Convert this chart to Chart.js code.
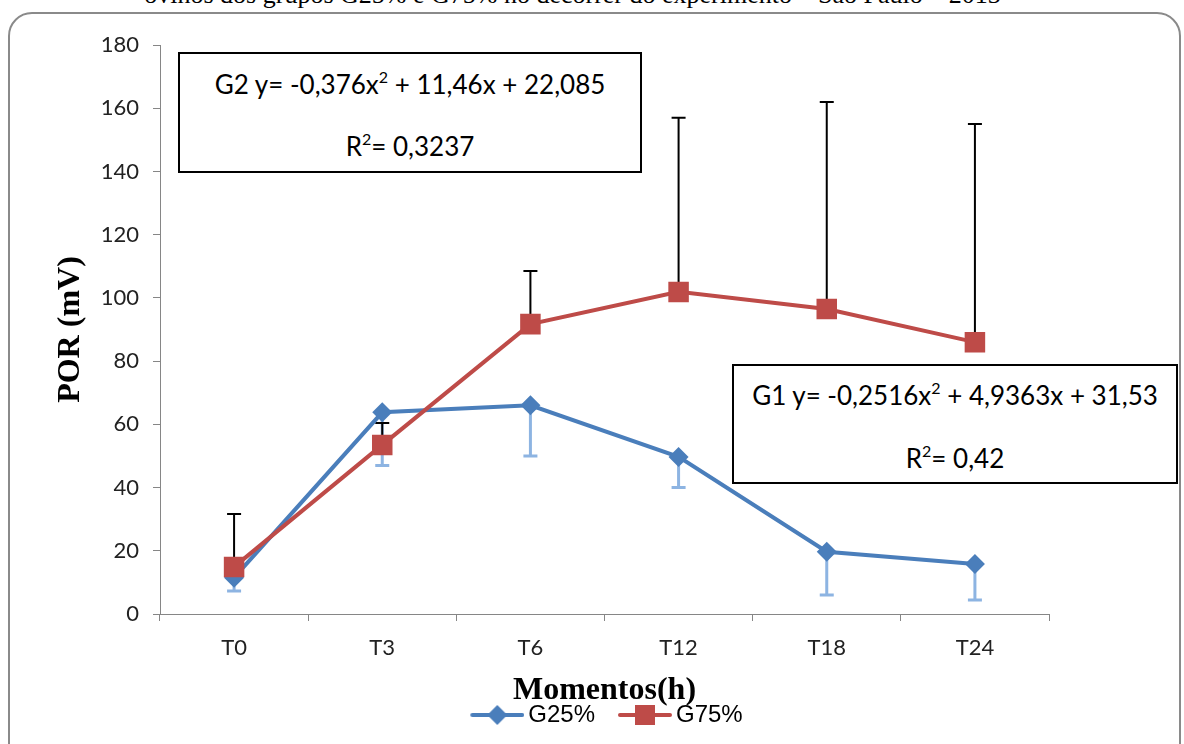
<!DOCTYPE html>
<html>
<head>
<meta charset="utf-8">
<title>POR (mV) G25% x G75%</title>
<script src="https://cdn.jsdelivr.net/npm/chart.js@4.4.0/dist/chart.umd.min.js"></script>
<style>
  html, body { margin: 0; padding: 0; background: #fff; }
  #wrap { position: relative; width: 1184px; height: 744px; overflow: hidden; background: #fff; }
  #caption {
    position: absolute; top: -20px; left: 0; width: 1145px;
    text-align: center; white-space: nowrap;
    font-family: 'Liberation Serif', serif; font-size: 26px; color: #000;
  }
  #frame {
    position: absolute; left: 8px; top: 12px; width: 1173px; height: 780px;
    border: 2px solid #8a8a8a; border-radius: 24px; box-sizing: border-box;
  }
  canvas { position: absolute; left: 0; top: 0; }
  .eq {
    position: absolute; border: 2px solid #000; background: #fff; box-sizing: border-box;
    font-family: Lato, sans-serif; font-size: 26px; color: #000; text-align: center;
  }
  .eq div { position: absolute; left: 0; width: 100%; line-height: 30px; }
  .eq sup { font-size: 16px; vertical-align: 11px; line-height: 0; }
</style>
</head>
<body>
<div id="wrap">
  <div id="caption">ovinos dos grupos G25% e G75% no decorrer do experimento – São Paulo – 2013</div>
  <div id="frame"></div>
  <canvas id="porChart" width="1184" height="744"></canvas>
  <div class="eq" style="left:178px; top:52px; width:464px; height:121px;">
    <div style="top:15px;">G2 y= -0,376x<sup>2</sup> + 11,46x + 22,085</div>
    <div style="top:77px;">R<sup>2</sup>= 0,3237</div>
  </div>
  <div class="eq" style="left:732px; top:364px; width:446px; height:120px;">
    <div style="top:14px;">G1 y= -0,2516x<sup>2</sup> + 4,9363x + 31,53</div>
    <div style="top:77px;">R<sup>2</sup>= 0,42</div>
  </div>
</div>
<script>
// data
const categories = ['T0', 'T3', 'T6', 'T12', 'T18', 'T24'];
const g25Values = [11.5, 63.8, 66, 49.7, 19.7, 15.8];
const g25ErrDown = [4.2, 16.8, 16, 9.7, 13.7, 11.4];
const g75Values = [14.9, 53.5, 91.7, 101.9, 96.5, 86];
const g75ErrUp = [16.7, 6.9, 16.8, 55.1, 65.5, 69];

// Colors
const blue = '#4a7ebb';
const blueErr = '#8db4e2';
const red = '#be4b48';
const axisGrey = '#868686';

// legend icon: line with marker in the middle (like Excel)
// transparent space on the left gives the gap between legend entries
const iconGap = 25;
function legendIcon(color, shape) {
    const c = document.createElement('canvas');
    c.width = 54 + iconGap;
    c.height = 22;
    const g = c.getContext('2d');
    g.translate(iconGap, 0);
    g.strokeStyle = color;
    g.lineWidth = 4;
    g.lineCap = 'round';
    g.beginPath();
    g.moveTo(2, 11);
    g.lineTo(52, 11);
    g.stroke();
    g.fillStyle = color;
    g.beginPath();
    if (shape === 'diamond') {
        g.moveTo(27, 1); g.lineTo(37, 11); g.lineTo(27, 21); g.lineTo(17, 11);
    } else {
        g.rect(17, 1, 20, 20);
    }
    g.closePath();
    g.fill();
    return c;
}
const icons = [legendIcon(blue, 'diamond'), legendIcon(red, 'square')];

// one-sided error bars
const errorBars = {
    id: 'errorBars',
    beforeDatasetsDraw(chart) {
        const ctx = chart.ctx;
        const y = chart.scales.y;
        const sets = [
            { meta: chart.getDatasetMeta(0), vals: g25Values, err: g25ErrDown, dir: -1, color: blueErr, width: 3 },
            { meta: chart.getDatasetMeta(1), vals: g75Values, err: g75ErrUp, dir: 1, color: '#000', width: 2 }
        ];
        ctx.save();
        sets.forEach(function(s) {
            ctx.strokeStyle = s.color;
            ctx.lineWidth = s.width;
            s.meta.data.forEach(function(pt, i) {
                const y0 = y.getPixelForValue(s.vals[i]);
                const y1 = y.getPixelForValue(s.vals[i] + s.dir * s.err[i]);
                ctx.beginPath();
                ctx.moveTo(pt.x, y0);
                ctx.lineTo(pt.x, y1);
                ctx.moveTo(pt.x - 7, y1);
                ctx.lineTo(pt.x + 7, y1);
                ctx.stroke();
            });
        });
        ctx.restore();
    }
};

// center the legend under the plot area
const legendUnderPlot = {
    id: 'legendUnderPlot',
    afterLayout(chart) {
        if (chart.legend) {
            chart.legend.left = chart.chartArea.left - iconGap + 6;
            chart.legend.right = chart.chartArea.right + 6;
        }
    }
};

const tickFont = { family: 'Lato', size: 22 };

new Chart(document.getElementById('porChart').getContext('2d'), {
    type: 'line',
    data: {
        labels: categories,
        datasets: [{
            label: 'G25%',
            data: g25Values,
            borderColor: blue,
            backgroundColor: blue,
            borderWidth: 4,
            pointStyle: 'rectRot',
            pointRadius: 10,
            pointBorderWidth: 0,
            tension: 0,
            order: 2
        }, {
            label: 'G75%',
            data: g75Values,
            borderColor: red,
            backgroundColor: red,
            borderWidth: 4,
            pointStyle: 'rect',
            pointRadius: 14.5,
            pointBorderWidth: 0,
            tension: 0,
            order: 1
        }]
    },
    options: {
        responsive: false,
        animation: false,
        layout: { padding: { left: 42, right: 135, top: 45, bottom: 7 } },
        plugins: {
            tooltip: { enabled: false },
            legend: {
                position: 'bottom',
                labels: {
                    usePointStyle: true,
                    pointStyleWidth: 54 + iconGap - 16,
                    padding: 6,
                    color: '#000',
                    font: { family: 'Liberation Sans', size: 24 },
                    sort: function(a, b) { return a.datasetIndex - b.datasetIndex; },
                    generateLabels: function(chart) {
                        const items = Chart.defaults.plugins.legend.labels.generateLabels(chart);
                        items.forEach(function(it) { it.pointStyle = icons[it.datasetIndex]; });
                        return items;
                    }
                }
            }
        },
        scales: {
            x: {
                offset: true,
                afterFit: function(scale) { scale.height = 83; },
                grid: { offset: true, drawOnChartArea: false, drawTicks: true, tickLength: 7, color: axisGrey },
                border: { color: axisGrey, width: 1 },
                ticks: { color: '#222', font: tickFont, padding: 14 },
                title: {
                    display: true,
                    text: 'Momentos(h)',
                    color: '#000',
                    font: { family: 'Liberation Serif', size: 32, weight: 'bold', lineHeight: 0.5 },
                    padding: { top: 0, bottom: -2 }
                }
            },
            y: {
                min: 0,
                max: 180,
                afterFit: function(scale) { scale.width = 118; },
                grid: { drawOnChartArea: false, drawTicks: true, tickLength: 7, color: axisGrey },
                border: { color: axisGrey, width: 1 },
                ticks: { stepSize: 20, color: '#222', font: tickFont, padding: 14 },
                title: {
                    display: true,
                    text: 'POR (mV)',
                    color: '#000',
                    font: { family: 'Liberation Serif', size: 32, weight: 'bold', lineHeight: 1 },
                    padding: { top: 13, bottom: 0 }
                }
            }
        }
    },
    plugins: [errorBars, legendUnderPlot]
});
</script>
</body>
</html>
